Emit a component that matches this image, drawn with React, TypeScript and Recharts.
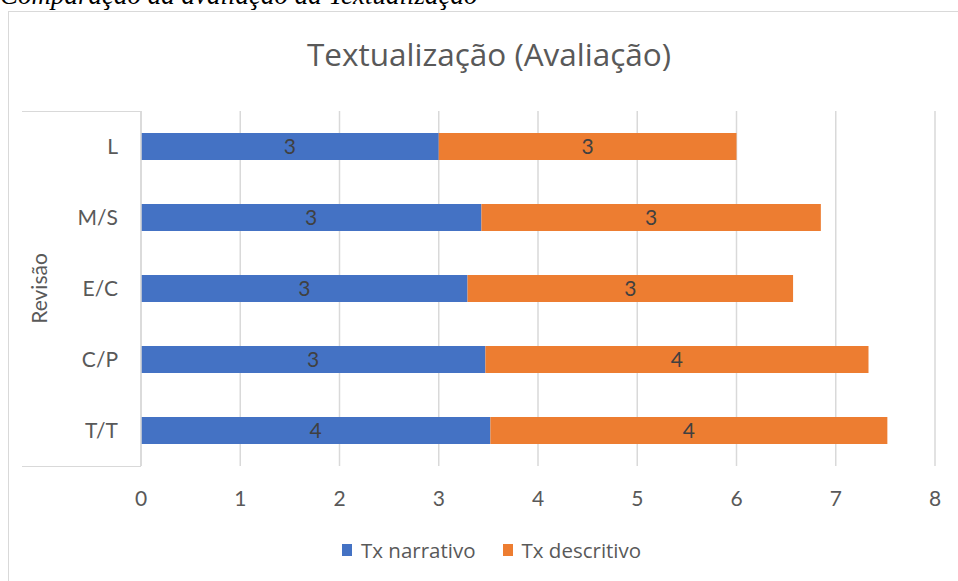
import { BarChart, Bar, XAxis, YAxis, CartesianGrid, Legend, LabelList } from "recharts";

const revisoes = ["L", "M/S", "E/C", "C/P", "T/T"];
const txNarrativo = [3.0, 3.43, 3.29, 3.47, 3.52];
const txDescritivo = [3.0, 3.42, 3.28, 3.86, 4.0];
const xTicks = [0, 1, 2, 3, 4, 5, 6, 7, 8];
const seriesNames = ["Tx narrativo", "Tx descritivo"];
const seriesColors = ["#4472c4", "#ed7d31"];

const data = revisoes.map((r, i) => ({
  revisao: r,
  narrativo: txNarrativo[i],
  descritivo: txDescritivo[i],
}));

const font = "Lato, 'Open Sans', sans-serif";
const grey = "#595959";
const lineGrey = "#d9d9d9";

// legend drawn in series order (recharts reverses it for vertical layout)
function LegendBox() {
  return (
    <div style={{ display: "flex", alignItems: "center", fontFamily: "'Open Sans', sans-serif", fontSize: 20.5, color: grey, lineHeight: "28px" }}>
      {seriesNames.map((name, i) => (
        <div key={name} style={{ display: "flex", alignItems: "center", marginRight: i === 0 ? 27 : 0 }}>
          <span style={{ width: 10, height: 12, background: seriesColors[i], display: "inline-block", marginRight: 9 }} />
          <span>{name}</span>
        </div>
      ))}
    </div>
  );
}

export default function App() {
  return (
    <div style={{ position: "absolute", left: 0, top: 0, width: 958, height: 581, overflow: "hidden", background: "#fff" }}>
      <div
        style={{
          position: "absolute",
          left: 0,
          top: -18,
          fontFamily: "'Liberation Serif', serif",
          fontStyle: "italic",
          fontSize: 27,
          lineHeight: "27px",
          whiteSpace: "nowrap",
          color: "#000",
        }}
      >
        Comparação da avaliação da Textualização
      </div>
      <div style={{ position: "absolute", left: 8, top: 11, width: 970, height: 600, border: `1px solid ${lineGrey}` }} />
      <div
        style={{
          position: "absolute",
          left: 0,
          width: 978,
          top: 36,
          lineHeight: "36px",
          textAlign: "center",
          fontFamily: "'Open Sans', sans-serif",
          fontSize: 31.5,
          color: grey,
        }}
      >
        Textualização (Avaliação)
      </div>
      <div style={{ position: "absolute", left: 22, top: 111, width: 119, height: 1, background: lineGrey }} />
      <div style={{ position: "absolute", left: 22, top: 466, width: 119, height: 1, background: lineGrey }} />

      <div style={{ position: "absolute", left: 0, top: 0 }}>
        <BarChart
          width={958}
          height={581}
          layout="vertical"
          data={data}
          margin={{ top: 111, right: 23, bottom: 85, left: 0 }}
        >
          <CartesianGrid horizontal={false} stroke={lineGrey} strokeWidth={1.5} />
          <XAxis
            type="number"
            domain={[0, 8]}
            ticks={xTicks}
            height={30}
            axisLine={false}
            tickLine={false}
            tickSize={0}
            tickMargin={25}
            tick={{ fill: grey, fontSize: 21, fontFamily: font }}
          />
          <YAxis
            type="category"
            dataKey="revisao"
            width={141}
            axisLine={{ stroke: lineGrey, strokeWidth: 1.5 }}
            tickLine={false}
            tickSize={0}
            tickMargin={23}
            tick={{ fill: grey, fontSize: 21, fontFamily: font }}
            label={{
              value: "Revisão",
              angle: -90,
              position: "insideLeft",
              offset: 40,
              style: { textAnchor: "middle", fill: grey, fontSize: 21, fontFamily: font },
            }}
          />
          <Legend
            verticalAlign="middle"
            align="center"
            content={<LegendBox />}
            wrapperStyle={{ left: 342, top: 536, width: "auto" }}
          />
          <Bar dataKey="narrativo" name={seriesNames[0]} stackId="a" fill={seriesColors[0]} barSize={27} isAnimationActive={false}>
            <LabelList
              dataKey="narrativo"
              position="center"
              formatter={(v: any) => Math.round(Number(v))}
              style={{ fill: "#404040", fontSize: 21, fontFamily: font }}
            />
          </Bar>
          <Bar dataKey="descritivo" name={seriesNames[1]} stackId="a" fill={seriesColors[1]} barSize={27} isAnimationActive={false}>
            <LabelList
              dataKey="descritivo"
              position="center"
              formatter={(v: any) => Math.round(Number(v))}
              style={{ fill: "#404040", fontSize: 21, fontFamily: font }}
            />
          </Bar>
        </BarChart>
      </div>
    </div>
  );
}
